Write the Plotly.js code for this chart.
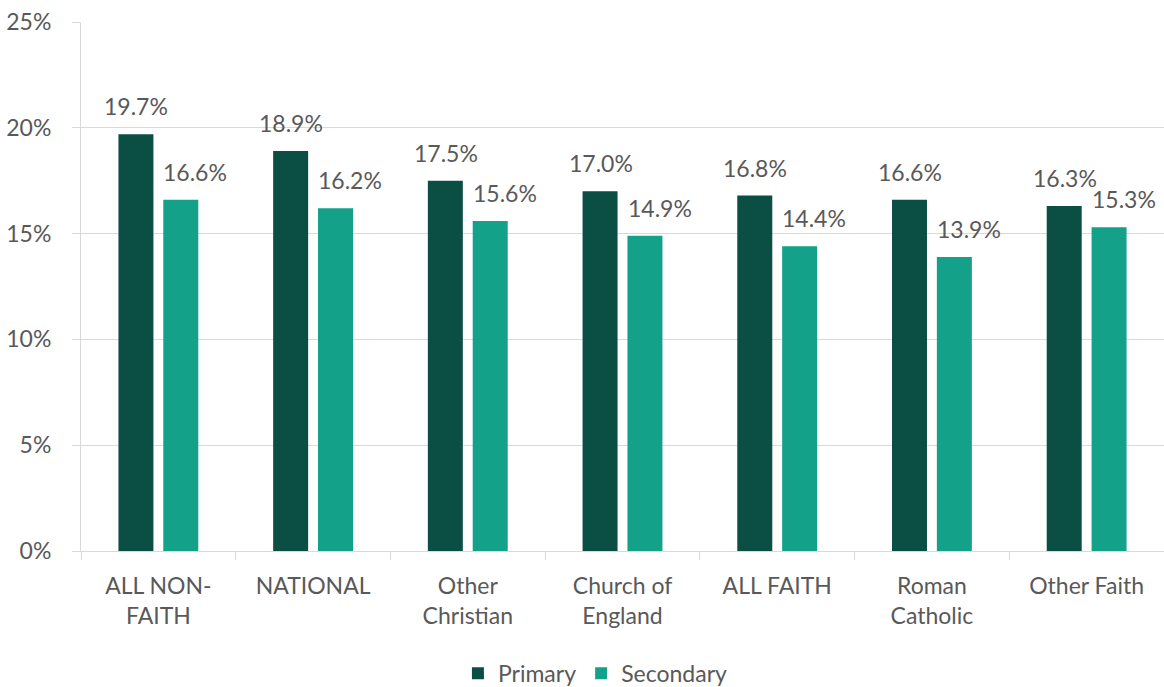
<!DOCTYPE html>
<html>
<head>
<meta charset="utf-8">
<script src="https://cdn.plot.ly/plotly-3.0.1.min.js"></script>
<style>html,body{margin:0;padding:0;background:#fff;}#chart{width:1164px;height:687px;}</style>
</head>
<body>
<div id="chart"></div>
<script>
const categories = ["ALL NON-<br>FAITH", "NATIONAL", "Other<br>Christian", "Church of<br>England", "ALL FAITH", "Roman<br>Catholic", "Other Faith"];
const primary = [19.7, 18.9, 17.5, 17.0, 16.8, 16.6, 16.3];
const secondary = [16.6, 16.2, 15.6, 14.9, 14.4, 13.9, 15.3];
const yTicks = [0, 5, 10, 15, 20, 25];

const FONT = "Lato, 'Noto Sans', sans-serif";
const TXT = "#595959";
const C1 = "#0b4f44";
const C2 = "#13a18a";
const FS = 23;

const traces = [
  {type: "bar", name: "Primary", x: categories, y: primary, marker: {color: C1}, hoverinfo: "skip"},
  {type: "bar", name: "Secondary", x: categories, y: secondary, marker: {color: C2}, hoverinfo: "skip"}
];

const annotations = [];
categories.forEach((c, i) => {
  annotations.push({x: c, y: primary[i], xref: "x", yref: "y", text: primary[i].toFixed(1) + "%",
    showarrow: false, xshift: -22, yshift: 28, yanchor: "middle", font: {family: FONT, size: FS, color: TXT}});
  annotations.push({x: c, y: secondary[i], xref: "x", yref: "y", text: secondary[i].toFixed(1) + "%",
    showarrow: false, xshift: 37, yshift: 28, yanchor: "middle", font: {family: FONT, size: FS, color: TXT}});
});

const layout = {
  width: 1164, height: 687,
  margin: {l: 81, r: 0, t: 22, b: 136},
  paper_bgcolor: "#fff", plot_bgcolor: "#fff",
  font: {family: FONT, size: FS, color: TXT},
  barmode: "group", bargap: 0.42, bargroupgap: 0.22,
  showlegend: true,
  legend: {orientation: "h", x: 0.475, xanchor: "center", yref: "container", y: 0.02, yanchor: "middle",
    font: {family: FONT, size: FS, color: TXT}, itemwidth: 30, traceorder: "normal"},
  xaxis: {type: "category", showgrid: false, showline: true, linecolor: "#d9d9d9", linewidth: 1,
    ticks: "outside", tickson: "boundaries", ticklen: 8, tickcolor: "#d9d9d9", automargin: false,
    ticklabelstandoff: 14, tickfont: {family: FONT, size: FS, color: TXT}, fixedrange: true},
  yaxis: {range: [0, 25], tickvals: yTicks, ticktext: yTicks.map(v => v + "%"),
    showgrid: true, gridcolor: "#d9d9d9", gridwidth: 1, zeroline: false, automargin: false,
    showline: true, linecolor: "#d9d9d9", ticks: "outside", ticklen: 8, tickcolor: "#d9d9d9",
    ticklabelstandoff: 16, tickfont: {family: FONT, size: FS, color: TXT}, fixedrange: true},
  annotations: annotations
};

Plotly.newPlot("chart", traces, layout, {displayModeBar: false, staticPlot: true});
</script>
</body>
</html>
